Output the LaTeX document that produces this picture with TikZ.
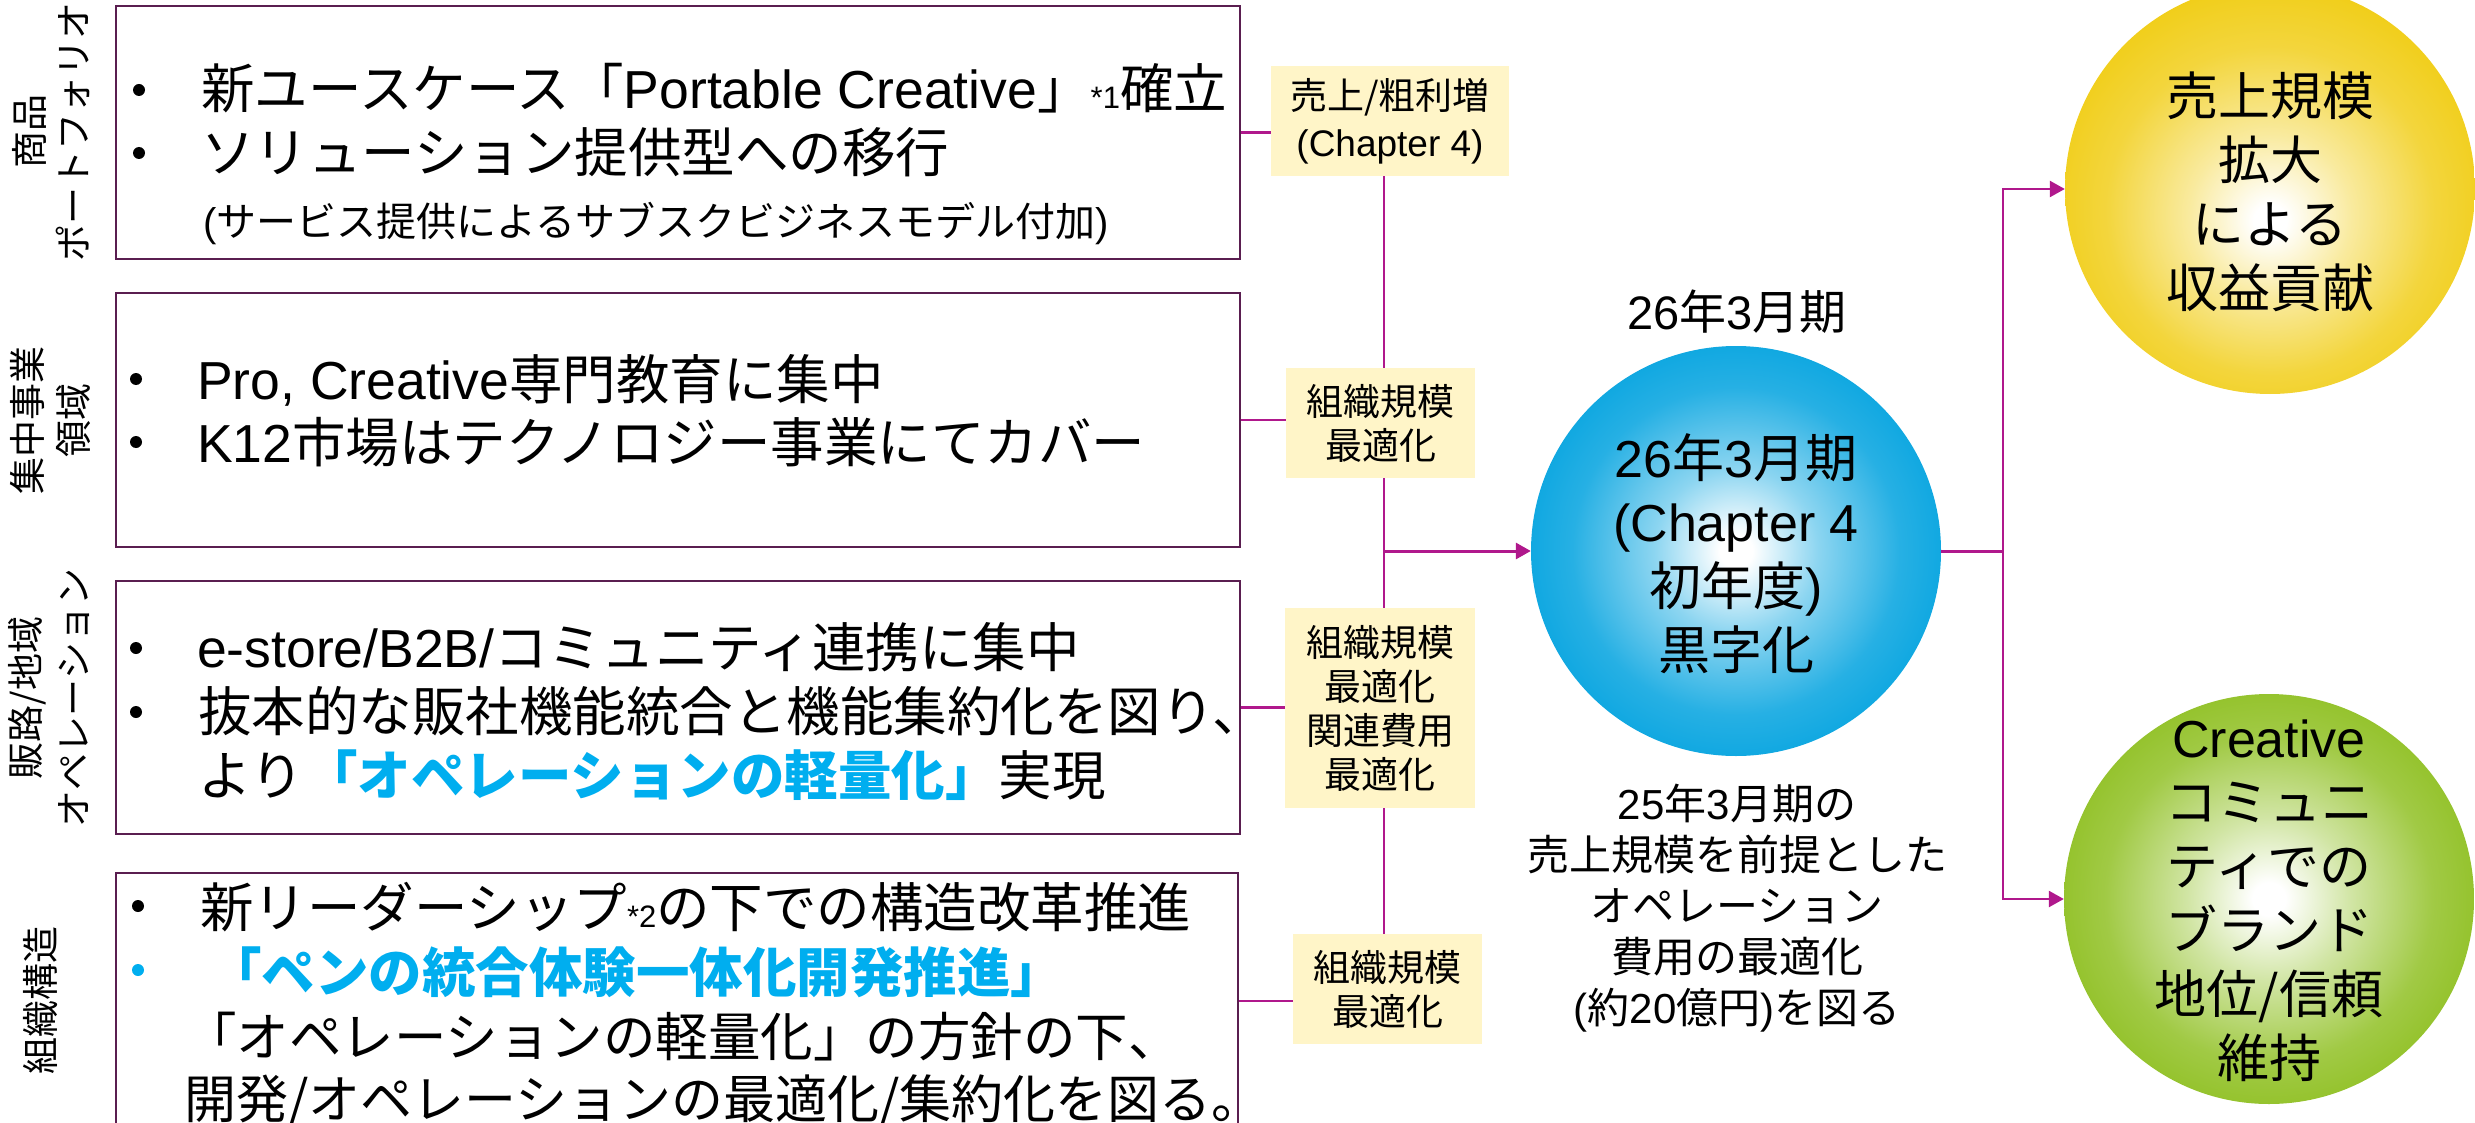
\documentclass[tikz,border=0pt]{standalone}
\usepackage{fontspec}
\setmainfont{Noto Sans CJK JP}
\newfontfamily\lat{Liberation Sans}
\usetikzlibrary{arrows.meta}
\definecolor{boxline}{HTML}{5A1E50}
\definecolor{conn}{HTML}{B0188C}
\definecolor{labfill}{HTML}{FFF5C8}
\definecolor{cyantext}{HTML}{00AEEF}
\definecolor{bluec}{HTML}{00A2DF}
\definecolor{yelc}{HTML}{F0CB0C}
\definecolor{grnc}{HTML}{8CBE1C}
\pgfdeclareradialshading{bluesh}{\pgfpoint{0bp}{0bp}}{color(0bp)=(white); color(2bp)=(white); color(10bp)=(bluec!45!white); color(20bp)=(bluec!85!white); color(29bp)=(bluec); color(50bp)=(bluec)}
\pgfdeclareradialshading{yelsh}{\pgfpoint{0bp}{-4bp}}{color(0bp)=(white); color(2bp)=(white); color(10bp)=(yelc!40!white); color(20bp)=(yelc!80!white); color(30bp)=(yelc); color(60bp)=(yelc)}
\pgfdeclareradialshading{grnsh}{\pgfpoint{0bp}{0bp}}{color(0bp)=(white); color(2bp)=(white); color(10bp)=(grnc!40!white); color(20bp)=(grnc!82!white); color(29bp)=(grnc); color(50bp)=(grnc)}
\begin{document}
\begin{tikzpicture}[x=1pt,y=-1pt,
  box/.style={draw=boxline, line width=2pt, minimum width=1124pt, inner sep=0},
  txt/.style={anchor=west, inner sep=0, text height=46pt, text depth=6pt, font=\fontsize{53.5}{64}\selectfont},
  smalltxt/.style={anchor=west, inner sep=0, text height=35pt, text depth=5pt, font=\fontsize{40}{48}\selectfont},
  bul/.style={circle, fill=black, inner sep=0, minimum size=12pt},
  side/.style={rotate=90, align=center, inner sep=0},
  lab/.style={fill=labfill, inner sep=0, align=center},
  cn/.style={draw=conn, line width=2.5pt},
  arr/.style={-{Triangle[length=15pt,width=16pt]}},
  ctext/.style={align=center, inner sep=0, font=\fontsize{52}{64}\selectfont},
  ball/.style={circle, inner sep=0, minimum size=410pt}
]
\useasboundingbox (0,0) rectangle (2475,1123);
\clip (0,0) rectangle (2475,1123);

% boxes
\node[box, minimum height=253pt] (box1) at (678,132.5) {};
\node[box, minimum height=254pt] (box2) at (678,420) {};
\node[box, minimum height=253pt] (box3) at (678,707.5) {};
\node[box, minimum height=256pt, minimum width=1122pt] (box4) at (677,1001) {};

% side labels
\node[side, font=\fontsize{37}{44}\selectfont] (s1) at (51,132) {商品\\ポートフォリオ};
\node[side, font=\fontsize{37}{46}\selectfont] (s2) at (50,420) {集中事業\\領域};
\node[side, font=\fontsize{37}{48}\selectfont] (s3) at (49,698) {販路/地域\\オペレーション};
\node[side, font=\fontsize{37}{44}\selectfont] (s4) at (41,1000) {組織構造};

% box 1 text
\node[bul] (b1a) at (139,90) {};
\node[txt] (t1a) at (201,89) {新ユースケース「{\lat Portable Creative}」{\lat\fontsize{31}{31}\selectfont *1}確立};
\node[bul] (b1b) at (139,153) {};
\node[txt] (t1b) at (201,153) {ソリューション提供型への移行};
\node[smalltxt] (t1c) at (203,222) {{\lat (}サービス提供によるサブスクビジネスモデル付加{\lat )}};

% box 2 text
\node[bul] (b2a) at (136,379) {};
\node[txt] (t2a) at (197,379) {{\lat Pro, Creative}専門教育に集中};
\node[bul] (b2b) at (136,442) {};
\node[txt] (t2b) at (197,442) {{\lat K12}市場はテクノロジー事業にてカバー};

% box 3 text
\node[bul] (b3a) at (136,648) {};
\node[txt] (t3a) at (197,647) {{\lat e-store/B2B/}コミュニティ連携に集中};
\node[bul] (b3b) at (136,712) {};
\node[txt] (t3b) at (198,711) {抜本的な販社機能統合と機能集約化を図り、};
\node[txt] (t3c) at (198,775) {より{\color{cyantext}\bfseries 「オペレーションの軽量化」}実現};

% box 4 text
\node[bul] (b4a) at (138,906) {};
\node[txt] (t4a) at (200,907) {新リーダーシップ{\lat\fontsize{31}{31}\selectfont *2}の下での構造改革推進};
\node[bul, fill=cyantext] (b4b) at (138,970) {};
\node[txt, text=cyantext, font=\fontsize{53.5}{64}\selectfont\bfseries] (t4b) at (208,972) {「ペンの統合体験一体化開発推進」};
\node[txt, font=\fontsize{52.5}{64}\selectfont] (t4c) at (184,1036) {「オペレーションの軽量化」の方針の下、};
\node[txt, font=\fontsize{52}{64}\selectfont] (t4d) at (184,1098) {開発/オペレーションの最適化/集約化を図る。};

% yellow labels
\node[lab, minimum width=238pt, minimum height=110pt, font=\fontsize{37}{47}\selectfont] (lab1) at (1390,121) {売上/粗利増\\{\lat (Chapter 4)}};
\node[lab, minimum width=189pt, minimum height=110pt, font=\fontsize{37}{44}\selectfont] (lab2) at (1380.5,423) {組織規模\\最適化};
\node[lab, minimum width=190pt, minimum height=200pt, font=\fontsize{37}{44}\selectfont] (lab3) at (1380,708) {組織規模\\最適化\\関連費用\\最適化};
\node[lab, minimum width=189pt, minimum height=110pt, font=\fontsize{37}{44}\selectfont] (lab4) at (1387.5,989) {組織規模\\最適化};

% circles
\node[ball, shading=bluesh] (mid) at (1736,551) {};
\node[ball, shading=yelsh] (yel) at (2270,189) {};
\node[ball, shading=grnsh] (grn) at (2269,899) {};
\node[ctext] (midt) at (1736,554) {{\lat 26}年{\lat 3}月期\\{\lat (Chapter 4}\\初年度{\lat )}\\黒字化};
\node[ctext] (yelt) at (2270,192) {売上規模\\拡大\\による\\収益貢献};
\node[ctext] (grnt) at (2269,901) {{\lat Creative}\\コミュニ\\ティでの\\ブランド\\地位/信頼\\維持};

\node[inner sep=0, font=\fontsize{47}{47}\selectfont] (yr) at (1737,312) {{\lat 26}年{\lat 3}月期};
\node[inner sep=0, align=center, font=\fontsize{42}{51}\selectfont] (note) at (1737,908) {{\lat 25}年{\lat 3}月期の\\売上規模を前提とした\\オペレーション\\費用の最適化\\{\lat (}約{\lat 20}億円{\lat )}を図る};

% connectors
\coordinate (jl) at (1384,551);
\coordinate (jr) at (2003,551);
\draw[cn] (box1.east) -- (box1.east -| lab1.west);
\draw[cn] (box2.east) -- (box2.east -| lab2.west);
\draw[cn] (box3.east) -- (box3.east -| lab3.west);
\draw[cn] (box4.east) -- (box4.east -| lab4.west);
\draw[cn] (jl |- lab1.south) -- (jl |- lab2.north);
\draw[cn] (jl |- lab2.south) -- (jl |- lab3.north);
\draw[cn] (jl |- lab3.south) -- (jl |- lab4.north);
\draw[cn, line width=3pt, arr] (jl) -- (mid.west);
\draw[cn, line width=3pt] (mid.east) -- (jr);
\draw[cn, arr] (jr) |- (yel.west);
\draw[cn, arr] (jr) |- (grn.west);
\end{tikzpicture}
\end{document}
